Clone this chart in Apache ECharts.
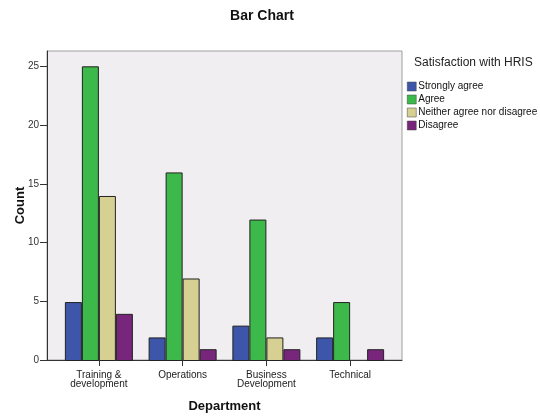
<!DOCTYPE html>
<html>
<head>
<meta charset="utf-8">
<script src="https://cdn.jsdelivr.net/npm/echarts@6/dist/echarts.min.js"></script>
<style>
  html, body { margin: 0; padding: 0; background: #fff; }
  #chart { width: 540px; height: 418px; }
</style>
</head>
<body>
<div id="chart"></div>
<script>
var departments = ['Training &\ndevelopment', 'Operations', 'Business\nDevelopment', 'Technical'];
var stronglyAgree = [5, 2, 3, 2];
var agree = [25, 16, 12, 5];
var neither = [14, 7, 2, null];
var disagree = [4, 1, 1, 1];
var seriesNames = ['Strongly agree', 'Agree', 'Neither agree nor disagree', 'Disagree'];
var colors = ['#3d56a9', '#3db84a', '#d6d092', '#78257c'];

var myChart = echarts.init(document.getElementById('chart'));
var font = 'Arial, "Liberation Sans", sans-serif';
var yMax = 26.3;

function bar(name, data, color) {
    return {
        name: name,
        type: 'bar',
        xAxisIndex: 1,
        yAxisIndex: 1,
        data: data,
        barWidth: 17,
        barGap: '0%',
        itemStyle: {
            color: color,
            borderColor: '#222',
            borderWidth: 1
        }
    };
}

var option = {
    animation: false,
    color: colors,
    title: [
        {
            text: 'Bar Chart',
            left: 257,
            top: 4,
            textAlign: 'center',
            textStyle: { fontFamily: font, fontSize: 14, fontWeight: 'bold', color: '#111' }
        },
        {
            text: 'Satisfaction with HRIS',
            left: 409,
            top: 52,
            textStyle: { fontFamily: font, fontSize: 12, fontWeight: 'normal', color: '#222' }
        }
    ],
    legend: {
        orient: 'vertical',
        left: 402,
        top: 76,
        itemWidth: 9,
        itemHeight: 9,
        itemGap: 2,
        icon: 'rect',
        data: seriesNames,
        itemStyle: { borderWidth: 0.5, borderColor: '#444' },
        textStyle: { fontFamily: font, fontSize: 10, lineHeight: 11, color: '#111', padding: [0, 0, 0, -3] }
    },
    grid: [
        {
            left: 47, right: 138, top: 51, bottom: 57,
            show: true,
            backgroundColor: '#f0eef0',
            borderColor: '#a0a0a0',
            borderWidth: 1
        },
        {
            left: 57, right: 148, top: 51, bottom: 57
        }
    ],
    xAxis: [
        {
            gridIndex: 0,
            type: 'value',
            min: 0, max: 1,
            axisLine: { show: true, onZero: false, lineStyle: { color: '#333' } },
            axisTick: { show: false },
            axisLabel: { show: false },
            splitLine: { show: false },
            name: 'Department',
            nameLocation: 'middle',
            nameGap: 40,
            nameTextStyle: { fontFamily: font, fontSize: 13, fontWeight: 'bold', color: '#111' }
        },
        {
            gridIndex: 1,
            type: 'category',
            data: departments,
            axisLine: { show: false },
            axisTick: { show: true, alignWithLabel: true, length: 5, lineStyle: { color: '#333' } },
            axisLabel: { fontFamily: font, fontSize: 10, color: '#222', margin: 10, lineHeight: 9 }
        }
    ],
    yAxis: [
        {
            gridIndex: 0,
            type: 'value',
            min: 0, max: yMax, interval: 5,
            axisLine: { show: true, lineStyle: { color: '#333' } },
            axisTick: { show: true, length: 7, lineStyle: { color: '#333' } },
            axisLabel: { fontFamily: font, fontSize: 10, color: '#333', margin: 8, showMaxLabel: false },
            splitLine: { show: false },
            name: 'Count',
            nameLocation: 'middle',
            nameRotate: 90,
            nameGap: 20,
            nameMoveOverlap: false,
            nameTextStyle: { fontFamily: font, fontSize: 13, fontWeight: 'bold', color: '#111' }
        },
        {
            gridIndex: 1,
            type: 'value',
            min: 0, max: yMax,
            show: false
        }
    ],
    series: [
        bar(seriesNames[0], stronglyAgree, colors[0]),
        bar(seriesNames[1], agree, colors[1]),
        bar(seriesNames[2], neither, colors[2]),
        bar(seriesNames[3], disagree, colors[3])
    ]
};
myChart.setOption(option);
</script>
</body>
</html>
